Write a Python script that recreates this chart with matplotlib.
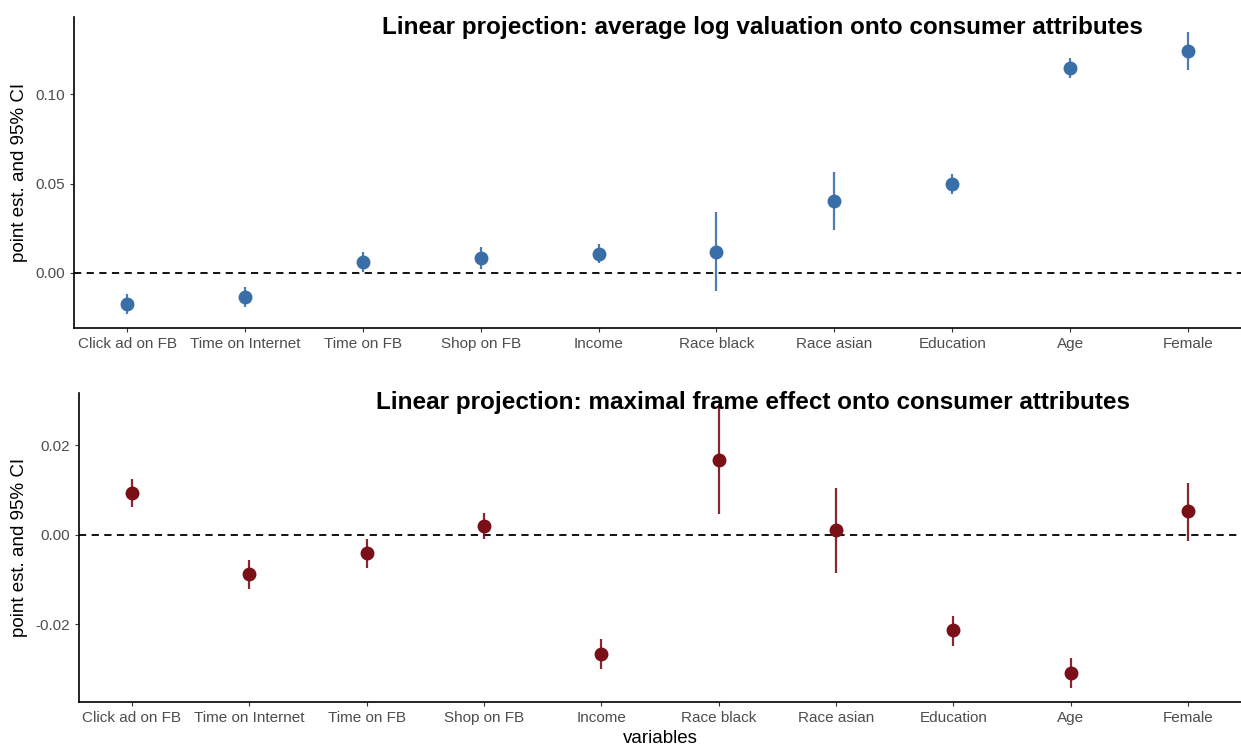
import matplotlib.pyplot as plt
import numpy as np

plt.rcParams['font.family'] = ['Liberation Sans', 'DejaVu Sans']

variables = ['Click ad on FB', 'Time on Internet', 'Time on FB', 'Shop on FB', 'Income',
             'Race black', 'Race asian', 'Education', 'Age', 'Female']

# top panel: average log valuation
val_est = [-0.0174, -0.0136, 0.0060, 0.0084, 0.0107, 0.0118, 0.0402, 0.0499, 0.1147, 0.1244]
val_lo = [-0.0230, -0.0191, 0.0006, 0.0022, 0.0053, -0.0101, 0.0241, 0.0439, 0.1093, 0.1138]
val_hi = [-0.0119, -0.0082, 0.0118, 0.0146, 0.0163, 0.0339, 0.0563, 0.0555, 0.1202, 0.1351]

# bottom panel: maximal frame effect
fr_est = [0.0094, -0.0087, -0.0041, 0.0021, -0.0266, 0.0167, 0.0011, -0.0213, -0.0309, 0.0053]
fr_lo = [0.0063, -0.0120, -0.0073, -0.0010, -0.0300, 0.0048, -0.0084, -0.0247, -0.0342, -0.0013]
fr_hi = [0.0125, -0.0056, -0.0009, 0.0050, -0.0232, 0.0290, 0.0105, -0.0181, -0.0276, 0.0116]

blue = '#3a6ea8'
red = '#7a0f18'
x = np.arange(len(variables))

fig = plt.figure(figsize=(12.41, 7.47), dpi=100)
ax1 = fig.add_axes([0.0596, 0.5613, 0.9404, 0.4157])
ax2 = fig.add_axes([0.0637, 0.0598, 0.9363, 0.4145])


def panel(ax, est, lo, hi, color, ylim, yticks, ylabels, title, tx):
    est = np.array(est)
    ax.axhline(0, color='black', ls=(0, (4, 3)), lw=1.3, zorder=1)
    ax.vlines(x, lo, hi, color=color, lw=1.6, alpha=0.9, zorder=2)
    ax.plot(x, est, 'o', color=color, ms=9, zorder=3)
    ax.set_xlim(-0.45, 9.45)
    ax.set_ylim(*ylim)
    ax.set_xticks(x)
    ax.set_xticklabels(variables)
    ax.set_yticks(yticks)
    ax.set_yticklabels(ylabels)
    ax.tick_params(labelsize=11, labelcolor='#4d4d4d', color='#333333', length=3, width=0.8)
    for s in ['top', 'right']:
        ax.spines[s].set_visible(False)
    for s in ['left', 'bottom']:
        ax.spines[s].set_linewidth(1.2)
    ax.set_ylabel('point est. and 95% CI', fontsize=13.5, labelpad=5)
    ax.text(tx, 1.005, title, transform=ax.transAxes, ha='center', va='top',
            fontsize=17.5, fontweight='bold', zorder=5)


panel(ax1, val_est, val_lo, val_hi, blue, (-0.0308, 0.1432),
      [0.0, 0.05, 0.10], ['0.00', '0.05', '0.10'],
      'Linear projection: average log valuation onto consumer attributes', 0.590)
panel(ax2, fr_est, fr_lo, fr_hi, red, (-0.0374, 0.0318),
      [-0.02, 0.0, 0.02], ['-0.02', '0.00', '0.02'],
      'Linear projection: maximal frame effect onto consumer attributes', 0.580)
ax2.set_xlabel('variables', fontsize=13.5, labelpad=3)

fig.savefig('out.png', dpi=100)
